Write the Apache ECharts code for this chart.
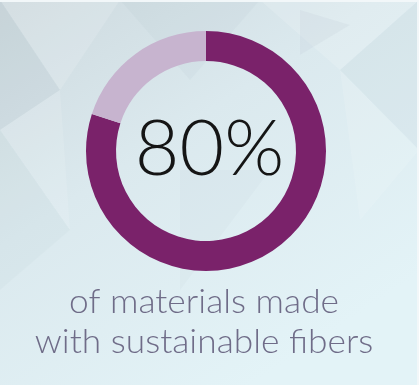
<!DOCTYPE html>
<html>
<head>
<meta charset="utf-8">
<script src="https://cdn.jsdelivr.net/npm/echarts@6/dist/echarts.min.js"></script>
<style>html,body{margin:0;padding:0;}#c{width:419px;height:385px;}</style>
</head>
<body>
<div id="c"></div>
<script>
const categories = ['Sustainable fibers', 'Other'];
const values = [80, 20];
const captionLines = ['of materials made', 'with sustainable fibers'];

const chart = echarts.init(document.getElementById('c'), null, {renderer: 'canvas'});
const tri = (pts, fill) => ({type: 'polygon', silent: true, z: -10, shape: {points: pts}, style: {fill: fill}});
chart.setOption({
  backgroundColor: {
    type: 'linear', x: 0, y: 0, x2: 0.6, y2: 1,
    colorStops: [{offset: 0, color: '#cdd9de'}, {offset: 0.45, color: '#dbe9ee'}, {offset: 1, color: '#e3f3f7'}]
  },
  graphic: [
    tri([[0,0],[120,0],[60,90]], 'rgba(255,255,255,0.15)'),
    tri([[0,0],[60,90],[0,130]], 'rgba(160,175,185,0.12)'),
    tri([[120,0],[260,0],[190,80]], 'rgba(170,185,195,0.10)'),
    tri([[260,0],[419,0],[340,70]], 'rgba(255,255,255,0.15)'),
    tri([[300,10],[350,25],[300,55]], 'rgba(170,185,195,0.12)'),
    tri([[340,70],[419,0],[419,150]], 'rgba(170,185,195,0.10)'),
    tri([[0,130],[60,90],[70,230]], 'rgba(255,255,255,0.12)'),
    tri([[0,130],[70,230],[0,290]], 'rgba(170,185,195,0.08)'),
    tri([[340,70],[419,150],[360,220]], 'rgba(255,255,255,0.12)'),
    tri([[180,170],[270,170],[180,290]], 'rgba(170,185,195,0.07)'),
    {type: 'rect', silent: true, z: -9, shape: {x: 0, y: 0, width: 419, height: 2}, style: {fill: '#f2f7f9'}},
    {type: 'rect', silent: true, z: -9, shape: {x: 417, y: 0, width: 2, height: 385}, style: {fill: '#f2f7f9'}},
    {
      type: 'text', left: 'center', top: 112, z: 10,
      style: {text: values[0] + '%', font: '300 77px Lato, "Open Sans", sans-serif', fill: '#151515'}
    },
    {
      type: 'text', x: 204, y: 282, scaleX: 1.07, z: 10,
      style: {x: 0, y: 0, text: captionLines.join('\n'), font: '300 33px Lato, "Open Sans", sans-serif', fill: '#6f6c88', lineHeight: 40, align: 'center', verticalAlign: 'top'}
    }
  ],
  series: [{
    type: 'pie',
    center: [206, 151],
    radius: [90, 120],
    startAngle: 90,
    clockwise: true,
    silent: true,
    label: {show: false},
    labelLine: {show: false},
    animation: false,
    data: categories.map((c, i) => ({name: c, value: values[i]})),
    color: ['#7a226a', '#c7b4cf'],
    itemStyle: {borderWidth: 0}
  }]
});
</script>
</body>
</html>
